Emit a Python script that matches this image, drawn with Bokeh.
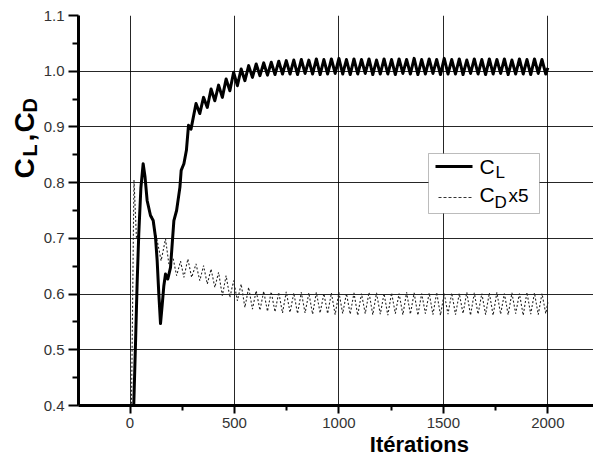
import math
from bokeh.plotting import figure
from bokeh.layouts import row, column
from bokeh.models import FixedTicker, PrintfTickFormatter, BoxAnnotation, Range1d
from bokeh.core.properties import value
from bokeh.embed import file_html
from bokeh.resources import INLINE

# ---------------- data ----------------
# C_L : start-up transient
cl_x_start = [16, 18, 27, 34, 42, 52, 63, 72, 82, 98, 111, 122, 130, 138, 146, 154, 162, 170, 181, 194,
              210, 223, 239, 245, 258, 270, 280, 292]
cl_y_start = [0.38, 0.40, 0.52, 0.618, 0.708, 0.79, 0.834, 0.81, 0.768, 0.741, 0.732, 0.702, 0.66, 0.60,
              0.547, 0.58, 0.615, 0.636, 0.627, 0.648, 0.732, 0.75, 0.792, 0.822, 0.834, 0.858, 0.903, 0.896]
# C_D x5 : start-up transient
cd_x_start = [6, 19, 31, 42, 52, 63, 72, 82, 98, 106, 114, 130, 149, 170, 186, 207, 223, 242, 258, 277, 295]
cd_y_start = [0.36, 0.805, 0.70, 0.708, 0.785, 0.828, 0.806, 0.766, 0.745, 0.738, 0.72, 0.696, 0.66, 0.699,
              0.654, 0.663, 0.633, 0.659, 0.630, 0.663, 0.630]
# periodic part: iterations of the maxima and minima
peak_x = [316, 352, 388, 424, 460, 496, 532, 568, 604, 640, 676, 712, 748, 784, 820, 856, 892, 928, 964, 1000,
          1036, 1072, 1108, 1144, 1180, 1216, 1252, 1288, 1324, 1360, 1396, 1432, 1468, 1504, 1540, 1576, 1612,
          1648, 1684, 1720, 1756, 1792, 1828, 1864, 1900, 1936, 1972]
trough_x = [334, 370, 406, 442, 478, 514, 550, 586, 622, 658, 694, 730, 766, 802, 838, 874, 910, 946, 982, 1018,
            1054, 1090, 1126, 1162, 1198, 1234, 1270, 1306, 1342, 1378, 1414, 1450, 1486, 1522, 1558, 1594, 1630,
            1666, 1702, 1738, 1774, 1810, 1846, 1882, 1918, 1954, 1990]
cl_peaks = [0.942, 0.953, 0.968, 0.975, 0.986, 0.998, 1.004, 1.010, 1.013, 1.015, 1.016, 1.018, 1.019, 1.020,
            1.021, 1.020, 1.022, 1.021, 1.022, 1.023, 1.021, 1.022, 1.021, 1.022, 1.020, 1.022, 1.021, 1.022,
            1.021, 1.023, 1.021, 1.022, 1.021, 1.023, 1.021, 1.022, 1.020, 1.022, 1.021, 1.022, 1.021, 1.022,
            1.020, 1.022, 1.021, 1.022, 1.021]
cl_troughs = [0.924, 0.935, 0.947, 0.953, 0.965, 0.974, 0.983, 0.989, 0.992, 0.993, 0.994, 0.995, 0.995, 0.994,
              0.996, 0.995, 0.994, 0.995, 0.996, 0.995, 0.994, 0.995, 0.996, 0.994, 0.995, 0.995, 0.994, 0.996,
              0.995, 0.994, 0.995, 0.996, 0.994, 0.995, 0.995, 0.994, 0.996, 0.995, 0.994, 0.995, 0.996, 0.994,
              0.995, 0.995, 0.994, 0.996, 0.995]
cl_end = [2000, 1.006]
cd_peaks = [0.654, 0.651, 0.645, 0.639, 0.633, 0.624, 0.618, 0.612, 0.606, 0.605, 0.604, 0.603, 0.604, 0.602,
            0.603, 0.602, 0.603, 0.601, 0.602, 0.603, 0.601, 0.602, 0.601, 0.603, 0.602, 0.601, 0.602, 0.601,
            0.603, 0.602, 0.601, 0.602, 0.603, 0.601, 0.602, 0.601, 0.603, 0.602, 0.601, 0.602, 0.603, 0.601,
            0.602, 0.601, 0.603, 0.602, 0.601]
cd_troughs = [0.624, 0.618, 0.612, 0.597, 0.594, 0.588, 0.576, 0.573, 0.571, 0.569, 0.568, 0.566, 0.567, 0.565,
              0.566, 0.564, 0.566, 0.565, 0.563, 0.565, 0.564, 0.562, 0.565, 0.563, 0.564, 0.562, 0.565, 0.563,
              0.564, 0.562, 0.565, 0.563, 0.562, 0.564, 0.563, 0.565, 0.562, 0.564, 0.563, 0.562, 0.564, 0.563,
              0.565, 0.562, 0.564, 0.563, 0.565]
cd_end = [2000, 0.585]

x_ticks = [0, 500, 1000, 1500, 2000]
x_minor = [250, 750, 1250, 1750]
y_ticks = [0.4, 0.5, 0.6, 0.7, 0.8, 0.9, 1.0, 1.1]
y_minor = [0.45, 0.55, 0.65, 0.75, 0.85, 0.95, 1.05]
y_grid = [0.5, 0.6, 0.7, 0.8, 0.9, 1.0]


def build(xs, ys, px, py, tx, ty, end):
    X = list(xs)
    Y = list(ys)
    for a, b, c, d in zip(px, py, tx, ty):
        X += [a, c]
        Y += [b, d]
    X.append(end[0])
    Y.append(end[1])
    return X, Y


cl_x, cl_y = build(cl_x_start, cl_y_start, peak_x, cl_peaks, trough_x, cl_troughs, cl_end)
cd_x, cd_y = build(cd_x_start, cd_y_start, peak_x, cd_peaks, trough_x, cd_troughs, cd_end)

# ---------------- geometry ----------------
W, H = 593, 457
LEFT_W = 40            # strip holding the rotated y title
MAIN_H = 435           # main plot; below it a strip for the x title
X0, X1 = -246.5, 2218.5
Y0, Y1 = 0.4, 1.1
FL, FR, FT, FB = 78, 593, 15, 405   # frame edges in page pixels
FONT = "Liberation Sans"
BASE_SHIFT = 0.35      # renderer places alphabetic text ~0.35 em low; compensate


def blank_fig(w, h):
    f = figure(width=w, height=h, x_range=Range1d(0, w), y_range=Range1d(0, h),
               output_backend="svg", toolbar_location=None, title=None,
               x_axis_type=None, y_axis_type=None,
               min_border_left=0, min_border_right=0, min_border_top=0, min_border_bottom=0)
    f.outline_line_color = None
    f.xgrid.visible = False
    f.ygrid.visible = False
    f.background_fill_color = "white"
    f.border_fill_color = "white"
    return f


# ---------------- main figure ----------------
p = figure(width=W - LEFT_W, height=MAIN_H, x_range=Range1d(X0, X1), y_range=Range1d(Y0, Y1),
           output_backend="svg", toolbar_location=None, title=None,
           min_border_left=FL - LEFT_W, min_border_right=0, min_border_top=FT,
           min_border_bottom=MAIN_H - FB)
p.outline_line_color = None
p.background_fill_color = "white"
p.border_fill_color = "white"


def dx(px):
    return X0 + (px - FL) * (X1 - X0) / (FR - FL)


def dy(py):
    return Y1 - (py - FT) * (Y1 - Y0) / (FB - FT)


for ax, ticks, minor, tout, mout in ((p.xaxis[0], x_ticks, x_minor, 8, 5),
                                     (p.yaxis[0], y_ticks, y_minor, 10, 6)):
    ax.ticker = FixedTicker(ticks=ticks, minor_ticks=minor)
    ax.axis_line_width = 3
    ax.axis_line_color = "black"
    ax.major_tick_line_width = 2
    ax.major_tick_line_color = "black"
    ax.minor_tick_line_width = 2
    ax.minor_tick_line_color = "black"
    ax.major_tick_in = 0
    ax.major_tick_out = tout
    ax.minor_tick_in = 0
    ax.minor_tick_out = mout
    ax.major_label_text_font = FONT
    ax.major_label_text_font_size = "15px"
    ax.major_label_text_color = "#333333"
    ax.major_label_standoff = 4

p.yaxis[0].formatter = PrintfTickFormatter(format="%.1f")
p.xaxis[0].formatter = PrintfTickFormatter(format="%d")
p.xgrid.ticker = FixedTicker(ticks=x_ticks)
p.ygrid.ticker = FixedTicker(ticks=y_grid)
for g in (p.xgrid[0], p.ygrid[0]):
    g.grid_line_color = "black"
    g.grid_line_alpha = 0.85
    g.grid_line_width = 1

# curves
p.line(cd_x, cd_y, line_width=1.1, line_color="#222222", line_dash="2 2")
p.line(cl_x, cl_y, line_width=3, line_color="black", line_join="round")

# legend (drawn by hand to allow subscripts)
box = BoxAnnotation(left=dx(428), right=dx(539), top=dy(153), bottom=dy(213),
                    fill_color="white", fill_alpha=1.0, line_color="#222222", line_width=1,
                    level="underlay")
p.add_layout(box)
p.line([dx(435), dx(472)], [dy(166), dy(166)], line_width=3, line_color="black")
p.line([dx(438), dx(472)], [dy(197), dy(197)], line_width=1, line_color="#333333", line_dash="3 2")


def lab(fig, x, y, text, size, bold=False, angle=0.0, align="left"):
    fig.text(x=[x], y=[y], text=[text], angle=angle, text_font=value(FONT),
             text_font_size=value(f"{size}px"), text_font_style="bold" if bold else "normal",
             text_color="black", text_align=align, text_baseline="alphabetic")


def hlab(fig, fx, fy, px_x, px_y, text, size, **kw):
    # horizontal text with its baseline at page pixel (px_x, px_y)
    lab(fig, fx(px_x), fy(px_y - BASE_SHIFT * size), text, size, **kw)


hlab(p, dx, dy, 479, 173, "C", 21)
hlab(p, dx, dy, 495, 178, "L", 17)
hlab(p, dx, dy, 479, 201.5, "C", 21)
hlab(p, dx, dy, 494, 208, "D", 17)
hlab(p, dx, dy, 508, 201.5, "x5", 19)

# ---------------- x title strip ----------------
pb = blank_fig(W - LEFT_W, H - MAIN_H)
hlab(pb, lambda v: v - LEFT_W, lambda v: H - v, 406, 452, "Itérations", 22, bold=True, align="center")

# ---------------- y title strip:  C_L , C_D  (rotated) ----------------
pl = blank_fig(LEFT_W, H)
R = math.pi / 2


def vlab(px_x, px_y, text, size):
    # rotated text whose baseline is the vertical line x = px_x, starting at page y = px_y
    lab(pl, px_x - BASE_SHIFT * size, H - px_y, text, size, bold=True, angle=R)


vlab(34, 178, "C", 28)
vlab(36.5, 156, "L", 20)
vlab(34, 141, ",", 28)
vlab(34, 132, "C", 28)
vlab(36.5, 112, "D", 20)

layout = row(pl, column(p, pb, spacing=0), spacing=0)
open("out.html", "w").write(file_html(layout, INLINE))
